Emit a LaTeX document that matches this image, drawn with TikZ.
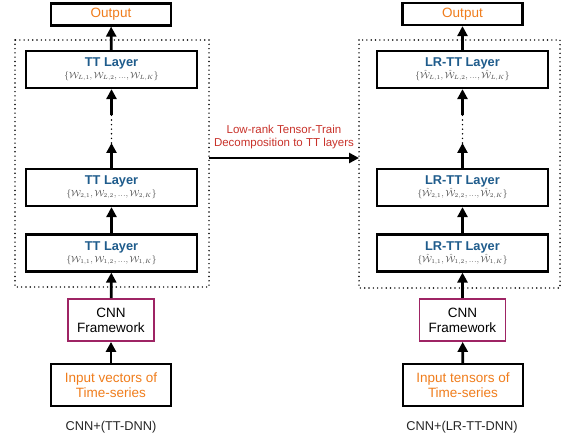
\documentclass[tikz,border=0pt]{standalone}
\usepackage{fontspec}
\usepackage{amsmath}
\newfontfamily\sanf{Liberation Sans}
\usetikzlibrary{arrows.meta}
\definecolor{outorange}{HTML}{F07D1C}
\definecolor{layerblue}{HTML}{1F5C8C}
\definecolor{decored}{HTML}{C8322A}
\definecolor{cnnmag}{HTML}{9E2464}
\definecolor{mathgray}{HTML}{444444}
\tikzset{
  x=1pt, y=1pt,
  boxbase/.style={draw=black, line width=2.2pt, fill=white, inner sep=0pt, align=center, font=\sanf},
  outbox/.style={boxbase, minimum width=120pt, minimum height=22pt, text=outorange, font=\sanf\fontsize{13.5}{15}\selectfont},
  layerbox/.style={boxbase, minimum width=171pt, minimum height=37pt},
  cnnbox/.style={boxbase, draw=cnnmag, line width=1.8pt, minimum width=86pt, minimum height=42pt, font=\sanf\fontsize{13.5}{15}\selectfont},
  inbox/.style={boxbase, minimum width=120pt, minimum height=42pt, text=outorange, font=\sanf\fontsize{13.5}{15}\selectfont},
  groupbox/.style={draw=black, line width=1.6pt, dash pattern=on 0pt off 4.3pt, line cap=round},
  flow/.style={line width=2.8pt, -{Triangle[length=10pt, width=10pt]}},
  gap/.style={line width=1.6pt, dash pattern=on 0pt off 4.6pt, line cap=round},
  caption/.style={font=\sanf\fontsize{12.8}{14}\selectfont, text=black!85},
}
\newcommand{\layertext}[2]{{\color{layerblue}\bfseries\fontsize{12.8}{13}\selectfont #1}\\[0pt]{\color{mathgray}\fontsize{9}{10}\selectfont$#2$}}
\begin{document}
\begin{tikzpicture}
\useasboundingbox (0,0) rectangle (563,-441);

% ---------- left stack: CNN + TT-DNN ----------
\draw[groupbox] (15,-40) rectangle (209,-287);
\node[outbox] (outA) at (111,-14.5) {Output};
\node[layerbox] (tLA) at (111.5,-69.5) {\layertext{TT Layer}{\{\mathcal{W}_{L,1},\mathcal{W}_{L,2},...,\mathcal{W}_{L,K}\}}};
\node[layerbox] (t2A) at (111.5,-187.5) {\layertext{TT Layer}{\{\mathcal{W}_{2,1},\mathcal{W}_{2,2},...,\mathcal{W}_{2,K}\}}};
\node[layerbox] (t1A) at (111.5,-253) {\layertext{TT Layer}{\{\mathcal{W}_{1,1},\mathcal{W}_{1,2},...,\mathcal{W}_{1,K}\}}};
\node[cnnbox] (cnnA) at (111,-320) {CNN\\Framework};
\node[inbox] (inA) at (111,-385) {Input vectors of\\Time-series};
\node[caption] (capA) at (111,-427) {CNN+(TT-DNN)};
\coordinate (gAtop) at (111.5,-115);
\coordinate (gAbot) at (111.5,-143);

\draw[flow] (inA) -- (cnnA);
\draw[flow] (cnnA) -- (t1A);
\draw[flow] (t1A) -- (t2A);
\draw[flow] (t2A.north) -- (gAbot);
\draw[gap] (gAbot) -- (gAtop);
\draw[flow] (gAtop) -- (tLA.south);
\draw[flow] (tLA) -- (outA);

% ---------- right stack: CNN + LR-TT-DNN ----------
\draw[groupbox] (359,-40) rectangle (560,-288);
\node[outbox] (outB) at (462.5,-14) {Output};
\node[layerbox] (tLB) at (462.5,-69.5) {\layertext{LR-TT Layer}{\{\hat{\mathcal{W}}_{L,1},\hat{\mathcal{W}}_{L,2},...,\hat{\mathcal{W}}_{L,K}\}}};
\node[layerbox] (t2B) at (462.5,-187.5) {\layertext{LR-TT Layer}{\{\hat{\mathcal{W}}_{2,1},\hat{\mathcal{W}}_{2,2},...,\hat{\mathcal{W}}_{2,K}\}}};
\node[layerbox] (t1B) at (462.5,-253) {\layertext{LR-TT Layer}{\{\hat{\mathcal{W}}_{1,1},\hat{\mathcal{W}}_{1,2},...,\hat{\mathcal{W}}_{1,K}\}}};
\node[cnnbox] (cnnB) at (462.5,-320) {CNN\\Framework};
\node[inbox] (inB) at (463,-385) {Input tensors of\\Time-series};
\node[caption] (capB) at (462,-427) {CNN+(LR-TT-DNN)};
\coordinate (gBtop) at (462.5,-115);
\coordinate (gBbot) at (462.5,-143);

\draw[flow] (inB) -- (cnnB);
\draw[flow] (cnnB) -- (t1B);
\draw[flow] (t1B) -- (t2B);
\draw[flow] (t2B.north) -- (gBbot);
\draw[gap] (gBbot) -- (gBtop);
\draw[flow] (gBtop) -- (tLB.south);
\draw[flow] (tLB) -- (outB);

% ---------- decomposition step ----------
\coordinate (decS) at (209,-158);
\coordinate (decE) at (359,-158);
\draw[flow] (decS) -- (decE);
\node[font=\sanf\fontsize{11.5}{13}\selectfont, text=decored, align=center] (decL) at (284,-137) {Low-rank Tensor-Train\\Decomposition to TT layers};
\end{tikzpicture}
\end{document}
